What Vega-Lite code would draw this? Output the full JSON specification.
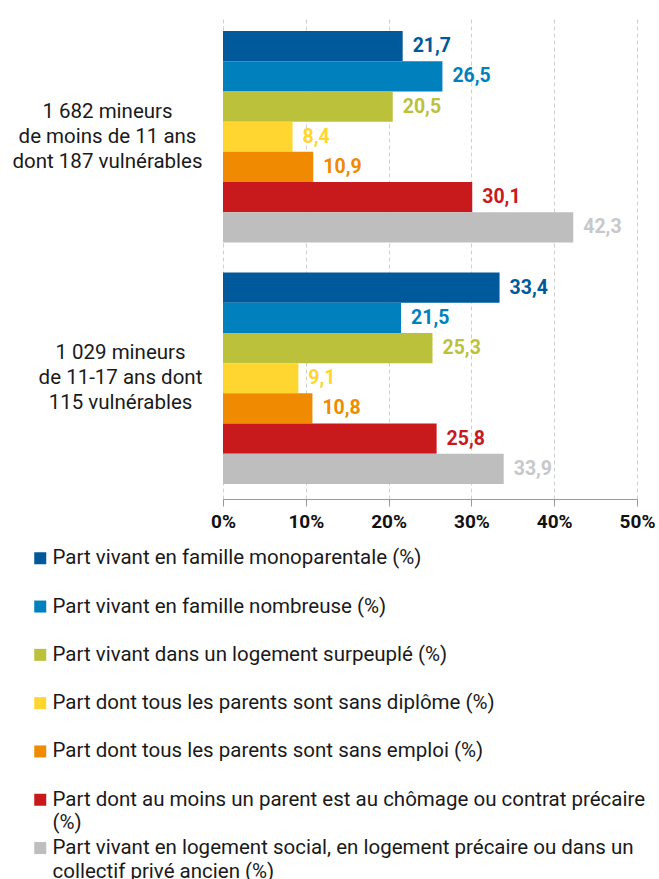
{
  "$schema": "https://vega.github.io/schema/vega-lite/v6.json",
  "autosize": {"type": "none"},
  "width": 414,
  "height": 483,
  "padding": {"left": 223, "top": 16, "right": 22, "bottom": 380},
  "config": {
    "font": "Roboto",
    "view": {"stroke": null},
    "style": {"guide-label": {"lineHeight": 23.5}},
    "locale": {"number": {"decimal": ",", "thousands": "\u00a0", "grouping": [3], "currency": ["", " €"]}}
  },
  "data": {
    "values": [
      {"groupe": "1 682 mineurs|de moins de 11 ans|dont 187 vulnérables", "indicateur": "Part vivant en famille monoparentale (%)", "valeur": 21.7},
      {"groupe": "1 682 mineurs|de moins de 11 ans|dont 187 vulnérables", "indicateur": "Part vivant en famille nombreuse (%)", "valeur": 26.5},
      {"groupe": "1 682 mineurs|de moins de 11 ans|dont 187 vulnérables", "indicateur": "Part vivant dans un logement surpeuplé (%)", "valeur": 20.5},
      {"groupe": "1 682 mineurs|de moins de 11 ans|dont 187 vulnérables", "indicateur": "Part dont tous les parents sont sans diplôme (%)", "valeur": 8.4},
      {"groupe": "1 682 mineurs|de moins de 11 ans|dont 187 vulnérables", "indicateur": "Part dont tous les parents sont sans emploi (%)", "valeur": 10.9},
      {"groupe": "1 682 mineurs|de moins de 11 ans|dont 187 vulnérables", "indicateur": "Part dont au moins un parent est au chômage ou contrat précaire (%)", "valeur": 30.1},
      {"groupe": "1 682 mineurs|de moins de 11 ans|dont 187 vulnérables", "indicateur": "Part vivant en logement social, en logement précaire ou dans un collectif privé ancien (%)", "valeur": 42.3},
      {"groupe": "1 029 mineurs|de 11-17 ans dont|115 vulnérables", "indicateur": "Part vivant en famille monoparentale (%)", "valeur": 33.4},
      {"groupe": "1 029 mineurs|de 11-17 ans dont|115 vulnérables", "indicateur": "Part vivant en famille nombreuse (%)", "valeur": 21.5},
      {"groupe": "1 029 mineurs|de 11-17 ans dont|115 vulnérables", "indicateur": "Part vivant dans un logement surpeuplé (%)", "valeur": 25.3},
      {"groupe": "1 029 mineurs|de 11-17 ans dont|115 vulnérables", "indicateur": "Part dont tous les parents sont sans diplôme (%)", "valeur": 9.1},
      {"groupe": "1 029 mineurs|de 11-17 ans dont|115 vulnérables", "indicateur": "Part dont tous les parents sont sans emploi (%)", "valeur": 10.8},
      {"groupe": "1 029 mineurs|de 11-17 ans dont|115 vulnérables", "indicateur": "Part dont au moins un parent est au chômage ou contrat précaire (%)", "valeur": 25.8},
      {"groupe": "1 029 mineurs|de 11-17 ans dont|115 vulnérables", "indicateur": "Part vivant en logement social, en logement précaire ou dans un collectif privé ancien (%)", "valeur": 33.9}
    ]
  },
  "encoding": {
    "y": {
      "field": "groupe", "type": "nominal", "sort": null, "title": null,
      "scale": {"paddingInner": 0.125, "paddingOuter": 0.0625},
      "axis": {
        "domain": false, "ticks": false, "tickSize": 0,
        "labelExpr": "split(datum.value, '|')",
        "labelAlign": "center", "labelBaseline": "middle", "labelOffset": -25,
        "labelPadding": {"condition": {"test": "indexof(datum.value, '1 029') >= 0", "value": 103}, "value": 116},
        "labelFont": "Roboto", "labelFontSize": 20.5, "labelLineHeight": 25, "labelColor": "#1a1a1a", "labelLimit": 300
      }
    },
    "yOffset": {
      "field": "indicateur", "type": "nominal", "sort": null,
      "scale": {"paddingInner": 0, "paddingOuter": 0}
    },
    "x": {
      "field": "valeur", "type": "quantitative", "title": null,
      "scale": {"domain": [0, 50]},
      "axis": {
        "values": [0, 10, 20, 30, 40, 50],
        "labelExpr": "datum.value + '%'",
        "grid": true, "gridColor": "#cfcfcf", "gridDash": [4, 3], "gridWidth": 1,
        "domainColor": "#999999", "tickColor": "#999999", "tickSize": 7,
        "labelFont": "Roboto", "labelFontSize": 19, "labelFontWeight": "bold", "labelColor": "#111111", "labelPadding": 6,
        "labelFlush": false
      }
    }
  },
  "layer": [
    {
      "mark": {"type": "bar"},
      "encoding": {
        "color": {
          "field": "indicateur", "type": "nominal",
          "scale": {
            "domain": [
              "Part vivant en famille monoparentale (%)",
              "Part vivant en famille nombreuse (%)",
              "Part vivant dans un logement surpeuplé (%)",
              "Part dont tous les parents sont sans diplôme (%)",
              "Part dont tous les parents sont sans emploi (%)",
              "Part dont au moins un parent est au chômage ou contrat précaire (%)",
              "Part vivant en logement social, en logement précaire ou dans un collectif privé ancien (%)"
            ],
            "range": ["#00599a", "#0080bd", "#bcc13c", "#ffd530", "#f08a00", "#c81a1c", "#bebebe"]
          },
          "legend": {
            "orient": "none", "legendX": -193, "legendY": 532,
            "title": null, "direction": "vertical",
            "symbolType": "square", "symbolSize": 144, "symbolStrokeWidth": 0,
            "labelFont": "Roboto", "labelFontSize": 20.5, "labelColor": "#1a1a1a",
            "labelLimit": 700, "labelOffset": 2, "rowPadding": 3.3, "gridAlign": "all",
            "labelExpr": "indexof(datum.label, 'chômage') >= 0 ? ['Part dont au moins un parent est au chômage ou contrat précaire', '(%)'] : indexof(datum.label, 'logement social') >= 0 ? ['Part vivant en logement social, en logement précaire ou dans un', 'collectif privé ancien (%)'] : datum.label"
          }
        }
      }
    },
    {
      "mark": {"type": "text", "align": "left", "baseline": "middle", "dx": 10, "fontSize": 19.5, "fontWeight": "bold", "font": "Roboto"},
      "encoding": {
        "text": {"field": "valeur", "type": "quantitative", "format": ".1f"},
        "color": {
          "field": "indicateur", "type": "nominal", "legend": null,
          "scale": {
            "domain": [
              "Part vivant en famille monoparentale (%)",
              "Part vivant en famille nombreuse (%)",
              "Part vivant dans un logement surpeuplé (%)",
              "Part dont tous les parents sont sans diplôme (%)",
              "Part dont tous les parents sont sans emploi (%)",
              "Part dont au moins un parent est au chômage ou contrat précaire (%)",
              "Part vivant en logement social, en logement précaire ou dans un collectif privé ancien (%)"
            ],
            "range": ["#00599a", "#0080bd", "#bcc13c", "#ffd530", "#f08a00", "#c81a1c", "#c8c8c8"]
          }
        }
      }
    }
  ],
  "resolve": {"scale": {"color": "independent"}}
}
